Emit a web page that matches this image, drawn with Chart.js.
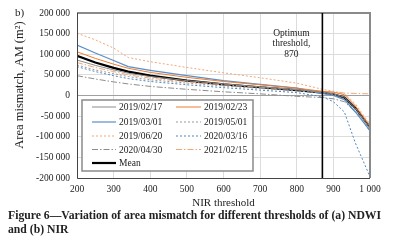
<!DOCTYPE html>
<html>
<head>
<meta charset="utf-8">
<script src="https://cdn.jsdelivr.net/npm/chart.js@4"></script>
<style>
  body { margin: 0; background: #fff; }
  #wrap { position: relative; width: 398px; height: 246px; }
  #tag { position: absolute; left: 15px; top: 6px; font: 11px "Liberation Serif", serif; color: #222; }
  #caption { position: absolute; left: 8px; top: 209px; width: 390px; font: bold 11.7px/14px "Liberation Serif", serif; color: #222; white-space: nowrap; }
</style>
</head>
<body>
<div id="wrap">
  <canvas id="nirChart" width="398" height="246"></canvas>
  <div id="tag">b)</div>
  <div id="caption">Figure 6—Variation of area mismatch for different thresholds of (a) NDWI<br>and (b) NIR</div>
</div>
<script>
// NIR thresholds (x) and area mismatch values in m2
const thresholds = [200, 250, 300, 340, 400, 500, 600, 700, 800, 870, 900, 930, 960, 1000];

const s20190217 = [86000, 73000, 62000, 54000, 46000, 36000, 28000, 21000, 14000, 8000, 4000, -4000, -30000, -80000];
const s20190223 = [106000, 90000, 76000, 66000, 56000, 44000, 34000, 26000, 18000, 10000, 8000, 2000, -25000, -75000];
const s20190301 = [122000, 103000, 85000, 70000, 61000, 48000, 36000, 27000, 18000, 5000, 0, -10000, -40000, -85000];
const s20190501 = [74000, 62000, 53000, 46000, 38000, 30000, 23000, 17000, 11000, 6000, 2000, -8000, -35000, -88000];
const s20190620 = [151000, 135000, 115000, 92000, 82000, 68000, 55000, 43000, 30000, 15000, 10000, 5000, -20000, -70000];
const s20200316 = [70000, 58000, 48000, 41000, 34000, 26000, 19000, 13000, 7000, -3000, -15000, -40000, -115000, -197000];
const s20200430 = [48000, 40000, 33000, 28000, 22000, 15000, 9000, 4000, -2000, -5000, -8000, -15000, -40000, -70000];
const s20210215 = [80000, 68000, 58000, 50000, 42000, 33000, 26000, 20000, 14000, 10000, 8000, 6000, 5000, 4000];
const meanValues = [96000, 80000, 67000, 58000, 48000, 36000, 27000, 20000, 13000, 7000, 3000, -5000, -30000, -77000];

const xTicks = [200, 300, 400, 500, 600, 700, 800, 900, 1000];
const optimumThreshold = 870;
const yTitle = 'Area mismatch, AM (m²)';

const serif = '"Liberation Serif", serif';

function pts(values) {
    return values.map((v, i) => ({ x: thresholds[i], y: v }));
}

function spaced(n) {
    const s = String(Math.abs(n)).replace(/\B(?=(\d{3})+(?!\d))/g, ' ');
    return (n < 0 ? '-' : '') + s;
}

const DOT = [2, 2];
const DASHDOT = [6, 2, 1.5, 2];

const datasets = [
    { label: '2019/02/17', data: pts(s20190217), borderColor: '#8c8c8c', borderWidth: 1 },
    { label: '2019/02/23', data: pts(s20190223), borderColor: '#ed7d31', borderWidth: 1 },
    { label: '2019/03/01', data: pts(s20190301), borderColor: '#5b8ec8', borderWidth: 1.2 },
    { label: '2019/05/01', data: pts(s20190501), borderColor: '#9a9a9a', borderWidth: 1, borderDash: DOT },
    { label: '2019/06/20', data: pts(s20190620), borderColor: '#f0a878', borderWidth: 1, borderDash: DOT },
    { label: '2020/03/16', data: pts(s20200316), borderColor: '#4f86c0', borderWidth: 1, borderDash: DOT },
    { label: '2020/04/30', data: pts(s20200430), borderColor: '#8c8c8c', borderWidth: 1, borderDash: DASHDOT },
    { label: '2021/02/15', data: pts(s20210215), borderColor: '#f0a878', borderWidth: 1, borderDash: DASHDOT },
    { label: 'Mean', data: pts(meanValues), borderColor: '#000000', borderWidth: 2.2 }
];
datasets.forEach(d => { d.pointRadius = 0; d.fill = false; d.tension = 0; });

// frame, optimum line and its note, y title and the boxed legend inside the plot
const overlay = {
    id: 'overlay',
    afterDatasetsDraw(chart) {
        const { ctx, chartArea: a, scales } = chart;
        ctx.save();

        // plot frame
        ctx.strokeStyle = '#8a8a8a';
        ctx.lineWidth = 2;
        ctx.beginPath();
        ctx.moveTo(a.left, a.top);
        ctx.lineTo(a.right, a.top);
        ctx.lineTo(a.right, a.bottom);
        ctx.stroke();
        ctx.strokeStyle = '#444';
        ctx.lineWidth = 1;
        ctx.beginPath();
        ctx.moveTo(a.left + 0.5, a.top);
        ctx.lineTo(a.left + 0.5, a.bottom + 0.5);
        ctx.lineTo(a.right, a.bottom + 0.5);
        ctx.stroke();

        // optimum threshold
        const xo = scales.x.getPixelForValue(optimumThreshold);
        ctx.strokeStyle = '#000';
        ctx.lineWidth = 1.6;
        ctx.beginPath();
        ctx.moveTo(xo, a.top);
        ctx.lineTo(xo, a.bottom);
        ctx.stroke();
        ctx.fillStyle = '#222';
        ctx.font = '9.5px ' + serif;
        ctx.textAlign = 'center';
        ctx.textBaseline = 'middle';
        ['Optimum', 'threshold,', String(optimumThreshold)].forEach((t, i) => {
            ctx.fillText(t, xo - 31, 33 + i * 10.5);
        });

        // y axis title, sitting a little above the plot centre like the original
        ctx.save();
        ctx.translate(20, 85);
        ctx.rotate(-Math.PI / 2);
        ctx.font = '12.5px ' + serif;
        ctx.fillText(yTitle, 0, 0);
        ctx.restore();

        // legend box
        const bx = a.left + 5, by = 100, bw = 171, bh = 71;
        ctx.fillStyle = '#fff';
        ctx.fillRect(bx, by, bw, bh);
        ctx.strokeStyle = '#8a8a8a';
        ctx.lineWidth = 1.5;
        ctx.setLineDash([]);
        ctx.strokeRect(bx, by, bw, bh);

        const rows = [107, 122, 136, 149.5, 163];
        const cols = [{ l0: 92, l1: 116, t: 119 }, { l0: 176, l1: 201, t: 204 }];
        ctx.textAlign = 'left';
        ctx.font = '9.5px ' + serif;
        chart.data.datasets.forEach((d, i) => {
            const r = rows[Math.floor(i / 2)];
            const c = cols[i % 2];
            ctx.strokeStyle = d.borderColor;
            ctx.lineWidth = d.borderWidth;
            ctx.setLineDash(d.borderDash || []);
            ctx.beginPath();
            ctx.moveTo(c.l0, r);
            ctx.lineTo(c.l1, r);
            ctx.stroke();
            ctx.fillStyle = '#222';
            ctx.fillText(d.label, c.t, r + 0.5);
        });
        ctx.restore();
    }
};

const config = {
    type: 'line',
    data: { datasets: datasets },
    options: {
        responsive: false,
        animation: false,
        layout: { padding: { top: 13, right: 28, left: 0, bottom: 36 } },
        plugins: {
            legend: { display: false },
            tooltip: { enabled: false }
        },
        scales: {
            x: {
                type: 'linear',
                min: 200,
                max: 1000,
                afterBuildTicks: scale => { scale.ticks = xTicks.map(v => ({ value: v })); },
                afterFit: scale => { scale.height = 32; },
                grid: {
                    color: '#dcdcdc',
                    drawTicks: false
                },
                border: { display: false },
                ticks: {
                    padding: 6,
                    color: '#222',
                    font: { family: serif, size: 9.5 },
                    callback: v => spaced(v)
                },
                title: {
                    display: true,
                    text: 'NIR threshold',
                    color: '#222',
                    font: { family: serif, size: 11 },
                    padding: { top: 2, bottom: 0 }
                }
            },
            y: {
                min: -200000,
                max: 200000,
                afterFit: scale => { scale.width = 77; },
                grid: {
                    color: ctx => ctx.tick && ctx.tick.value === 0 ? '#a0a0a0' : '#dcdcdc',
                    drawTicks: false
                },
                border: { display: false },
                ticks: {
                    stepSize: 50000,
                    padding: 7,
                    color: '#222',
                    font: { family: serif, size: 9.5 },
                    callback: v => spaced(v)
                },
                title: { display: false }
            }
        }
    },
    plugins: [overlay]
};

const myChart = new Chart(document.getElementById('nirChart').getContext('2d'), config);
</script>
</body>
</html>
